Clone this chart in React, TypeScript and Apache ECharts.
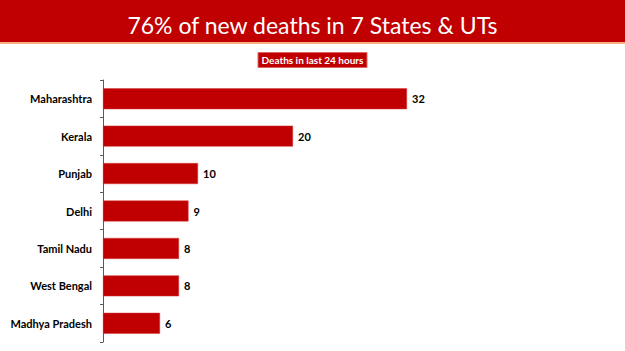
import React, { useEffect, useRef } from "react";
import * as echarts from "echarts";

const categories = ["Maharashtra", "Kerala", "Punjab", "Delhi", "Tamil Nadu", "West Bengal", "Madhya Pradesh"];
const deaths = [32, 20, 10, 9, 8, 8, 6];
const titleText = "76% of new deaths in 7 States & UTs";
const badgeText = "Deaths in last 24 hours";

export default function App() {
  const ref = useRef<HTMLDivElement>(null);
  useEffect(() => {
    const chart = echarts.init(ref.current!, null, { renderer: "svg" });
    chart.setOption({
      animation: false,
      backgroundColor: "#ffffff",
      graphic: [
        { type: "rect", left: 0, top: 0, shape: { width: 625, height: 42 }, style: { fill: "#C00000" }, z: 0 },
        { type: "rect", left: 0, top: 42, shape: { width: 625, height: 2 }, style: { fill: "#F4B183" }, z: 0 },
      ],
      title: [
        {
          text: titleText,
          left: "center",
          top: 4,
          textStyle: { color: "#ffffff", fontSize: 23, lineHeight: 32, fontWeight: "normal", fontFamily: "Lato" },
        },
        {
          text: badgeText,
          left: "center",
          top: 52,
          padding: [3, 4, 3, 4],
          backgroundColor: "#C00000",
          borderColor: "#E06666",
          borderWidth: 1,
          textStyle: { color: "#ffffff", fontSize: 10, fontWeight: "bold", fontFamily: "Lato" },
        },
      ],
      grid: { left: 103, right: 142, top: 80, bottom: 9, containLabel: false },
      xAxis: {
        type: "value",
        min: 0,
        max: 40,
        show: false,
      },
      yAxis: {
        type: "category",
        data: categories,
        inverse: true,
        axisLine: { show: true, lineStyle: { color: "#595959", width: 1 } },
        axisTick: { show: true, length: 3, lineStyle: { color: "#595959" } },
        axisLabel: { color: "#000000", fontSize: 11, fontWeight: "bold", fontFamily: "Lato", margin: 11 },
        splitLine: { show: false },
      },
      series: [
        {
          type: "bar",
          data: deaths,
          barCategoryGap: "44%",
          itemStyle: { color: "#C00000", borderColor: "#D43A3A", borderWidth: 0.5 },
          label: {
            show: true,
            position: "right",
            distance: 5,
            color: "#000000",
            fontSize: 11,
            fontWeight: "bold",
            fontFamily: "Lato",
          },
        },
      ],
    });
    return () => chart.dispose();
  }, []);
  return <div ref={ref} style={{ width: 625, height: 351, position: "fixed", left: 0, top: 0 }} />;
}
